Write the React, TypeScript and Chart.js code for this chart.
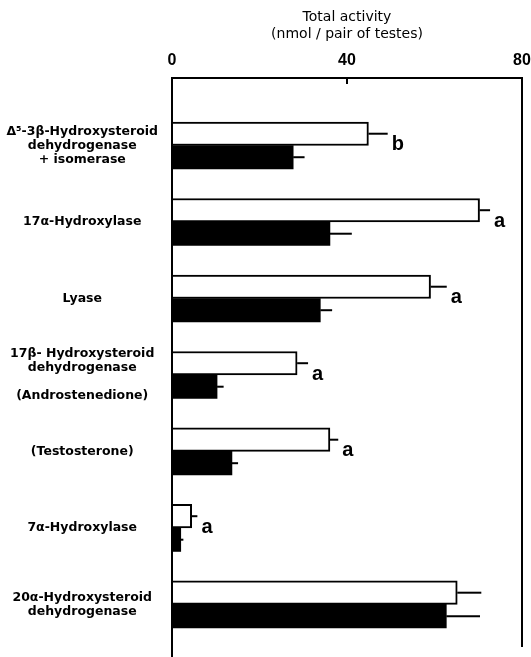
import React, { useEffect, useRef } from "react";
import { Chart, registerables } from "chart.js";

Chart.register(...registerables);

// Enzyme categories (multi-line labels)
const categories: string[][] = [
  ["Δ⁵-3β-Hydroxysteroid", "dehydrogenase", "+ isomerase"],
  ["17α-Hydroxylase"],
  ["Lyase"],
  ["17β- Hydroxysteroid", "dehydrogenase", "", "(Androstenedione)"],
  ["(Testosterone)"],
  ["7α-Hydroxylase"],
  ["20α-Hydroxysteroid", "dehydrogenase"],
];
const categoryPositions = [1, 2, 3, 4, 5, 6, 7];

// Open bars
const controlValues = [44.9, 70.3, 59.1, 28.6, 36.1, 4.5, 65.2];
const controlErrors = [4.4, 2.4, 3.7, 2.5, 1.9, 1.3, 5.5];
// Solid bars
const treatedValues = [27.7, 36.1, 33.9, 10.3, 13.7, 2.0, 62.7];
const treatedErrors = [2.6, 5.0, 2.7, 1.5, 1.4, 0.6, 7.7];

const significance = ["b", "a", "a", "a", "a", "a", ""];
const xTicks = [0, 40, 80];
const axisTitle = ["Total activity", "(nmol / pair of testes)"];

const overlayPlugin = {
  id: "overlay",
  afterDatasetsDraw(chart: any) {
    const { ctx, chartArea, scales } = chart;
    const xs = scales.x;
    ctx.save();
    ctx.strokeStyle = "#000";
    ctx.fillStyle = "#000";
    ctx.lineWidth = 2;
    // left axis redraw + right frame
    ctx.beginPath();
    ctx.moveTo(chartArea.left, chartArea.top);
    ctx.lineTo(chartArea.left, chartArea.bottom);
    ctx.moveTo(chartArea.right, chartArea.top);
    ctx.lineTo(chartArea.right, chartArea.bottom - 10);
    ctx.stroke();
    // inner tick marks
    xTicks.forEach((t) => {
      const px = xs.getPixelForValue(t);
      ctx.beginPath();
      ctx.moveTo(px, chartArea.top);
      ctx.lineTo(px, chartArea.top + 6);
      ctx.stroke();
    });
    // error bars
    const sets = [
      { vals: controlValues, errs: controlErrors },
      { vals: treatedValues, errs: treatedErrors },
    ];
    sets.forEach((s, di) => {
      const meta = chart.getDatasetMeta(di);
      meta.data.forEach((el: any, i: number) => {
        const x0 = el.x;
        const x1 = xs.getPixelForValue(s.vals[i] + s.errs[i]);
        ctx.beginPath();
        ctx.moveTo(x0, el.y);
        ctx.lineTo(x1, el.y);
        ctx.stroke();
      });
    });
    // significance letters
    const meta0 = chart.getDatasetMeta(0);
    ctx.font = 'bold 20px "Liberation Sans"';
    ctx.textBaseline = "alphabetic";
    ctx.textAlign = "left";
    meta0.data.forEach((el: any, i: number) => {
      if (!significance[i]) return;
      const x = xs.getPixelForValue(controlValues[i] + controlErrors[i]) + 4;
      const y = el.y + el.height / 2 + 5;
      ctx.fillText(significance[i], x, y);
    });
    ctx.restore();
  },
};

export default function App() {
  const ref = useRef<HTMLCanvasElement | null>(null);
  useEffect(() => {
    document.body.style.margin = "0";
    if (!ref.current) return;
    const chart = new Chart(ref.current, {
      type: "bar",
      data: {
        datasets: [
          {
            data: controlValues.map((v, i) => ({ x: v, y: categoryPositions[i] })),
            backgroundColor: "#fff",
            borderColor: "#000",
            borderWidth: 2,
            barThickness: 23.5,
          },
          {
            data: treatedValues.map((v, i) => ({ x: v, y: categoryPositions[i] })),
            backgroundColor: "#000",
            borderColor: "#000",
            borderWidth: 0,
            barThickness: 23.5,
          },
        ],
      },
      options: {
        indexAxis: "y",
        animation: false,
        responsive: false,
        devicePixelRatio: 1,
        layout: { padding: { top: 0, right: 0, bottom: 0, left: 0 } },
        plugins: {
          legend: { display: false },
          tooltip: { enabled: false },
        },
        scales: {
          x: {
            type: "linear",
            position: "top",
            min: 0,
            max: 80,
            offset: false,
            afterBuildTicks: (scale: any) => {
              scale.ticks = xTicks.map((v) => ({ value: v }));
            },
            afterFit: (scale: any) => {
              scale.height = 78;
              scale.paddingRight = 9;
              scale.paddingLeft = 0;
            },
            grid: { display: false, drawTicks: false, offset: false },
            border: { display: true, color: "#000", width: 2 },
            ticks: {
              color: "#000",
              padding: 8,
              font: { family: "Liberation Sans", size: 16, weight: "bold", lineHeight: 1.2 },
            },
            title: {
              display: true,
              text: axisTitle,
              color: "#000",
              font: { family: "DejaVu Sans", size: 14, lineHeight: 17 / 14 },
              padding: { top: 8.5, bottom: 0 },
            },
          },
          y: {
            type: "linear",
            reverse: true,
            min: 0.118,
            max: 7.687,
            offset: false,
            afterBuildTicks: (scale: any) => {
              scale.ticks = categoryPositions.map((v) => ({ value: v }));
            },
            afterFit: (scale: any) => {
              scale.width = 172;
              scale.paddingTop = 0;
              scale.paddingBottom = 0;
            },
            grid: { display: false, drawTicks: false, offset: false },
            border: { display: true, color: "#000", width: 2 },
            ticks: {
              autoSkip: false,
              color: "#000",
              crossAlign: "center",
              padding: 14,
              font: { family: "DejaVu Sans", size: 12.5, weight: "bold", lineHeight: 14 / 12.5 },
              callback: (value: any) => {
                const idx = categoryPositions.indexOf(Number(value));
                return idx >= 0 ? categories[idx] : "";
              },
            },
          },
        },
      },
      plugins: [overlayPlugin],
    } as any);
    return () => chart.destroy();
  }, []);
  return (
    <div style={{ width: 531, height: 657 }}>
      <canvas ref={ref} width={531} height={657} style={{ display: "block" }} />
    </div>
  );
}
